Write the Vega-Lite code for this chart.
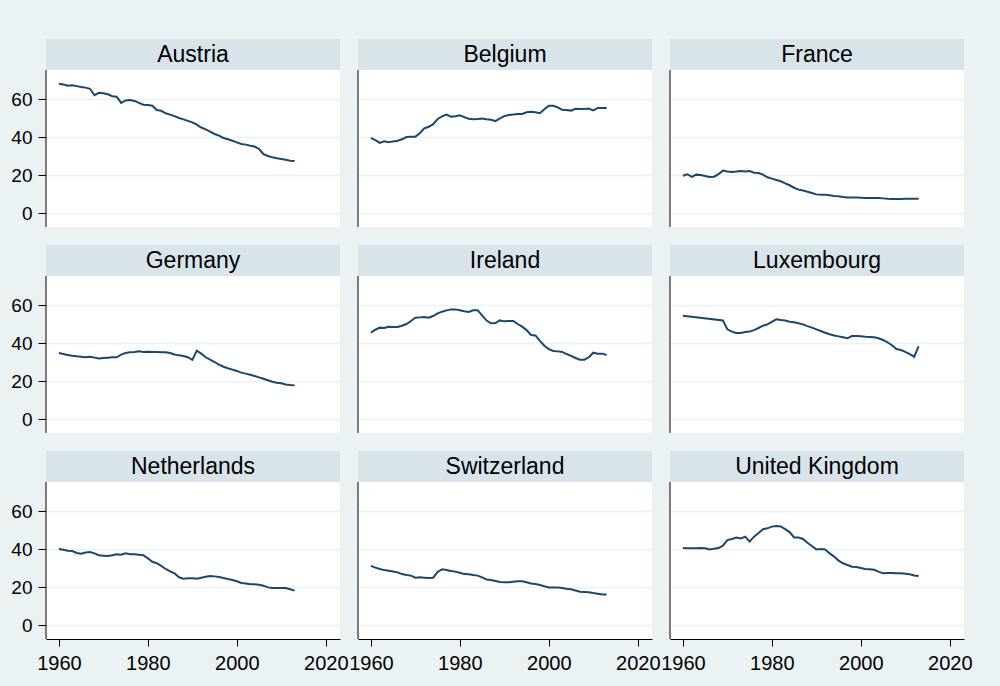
{
  "$schema": "https://vega.github.io/schema/vega-lite/v6.json",
  "background": "#EAF2F3",
  "padding": {"left": 10, "top": 39, "right": 27, "bottom": 14},
  "bounds": "flush",
  "config": {
    "view": {"fill": "white", "stroke": null},
    "font": "Liberation Sans",
    "header": {"labels": false, "title": null, "labelPadding": 0, "titlePadding": 0, "labelFontSize": 0, "labelExpr": "''"},
    "axis": {"labelFont": "Liberation Sans", "labelColor": "black", "domainColor": "black", "tickColor": "black"}
  },
  "datasets": {
    "d": [
      {"country":"Austria","year":1960,"value":68},{"country":"Austria","year":1961,"value":67.7},{"country":"Austria","year":1962,"value":67},{"country":"Austria","year":1963,"value":67.2},{"country":"Austria","year":1964,"value":66.8},{"country":"Austria","year":1965,"value":66.3},{"country":"Austria","year":1966,"value":66},{"country":"Austria","year":1967,"value":65.4},{"country":"Austria","year":1968,"value":62},{"country":"Austria","year":1969,"value":63.3},{"country":"Austria","year":1970,"value":63},{"country":"Austria","year":1971,"value":62.5},{"country":"Austria","year":1972,"value":61.5},{"country":"Austria","year":1973,"value":61.2},{"country":"Austria","year":1974,"value":58},{"country":"Austria","year":1975,"value":59.3},{"country":"Austria","year":1976,"value":59.5},{"country":"Austria","year":1977,"value":59},{"country":"Austria","year":1978,"value":58},{"country":"Austria","year":1979,"value":57},{"country":"Austria","year":1980,"value":56.8},{"country":"Austria","year":1981,"value":56.5},{"country":"Austria","year":1982,"value":54.2},{"country":"Austria","year":1983,"value":53.8},{"country":"Austria","year":1984,"value":52.5},{"country":"Austria","year":1985,"value":51.8},{"country":"Austria","year":1986,"value":51},{"country":"Austria","year":1987,"value":50},{"country":"Austria","year":1988,"value":49.3},{"country":"Austria","year":1989,"value":48.5},{"country":"Austria","year":1990,"value":47.7},{"country":"Austria","year":1991,"value":46.5},{"country":"Austria","year":1992,"value":45},{"country":"Austria","year":1993,"value":44},{"country":"Austria","year":1994,"value":42.8},{"country":"Austria","year":1995,"value":41.6},{"country":"Austria","year":1996,"value":40.7},{"country":"Austria","year":1997,"value":39.5},{"country":"Austria","year":1998,"value":38.8},{"country":"Austria","year":1999,"value":38},{"country":"Austria","year":2000,"value":37.2},{"country":"Austria","year":2001,"value":36.3},{"country":"Austria","year":2002,"value":36},{"country":"Austria","year":2003,"value":35.4},{"country":"Austria","year":2004,"value":35},{"country":"Austria","year":2005,"value":33.7},{"country":"Austria","year":2006,"value":31},{"country":"Austria","year":2007,"value":30},{"country":"Austria","year":2008,"value":29.3},{"country":"Austria","year":2009,"value":28.8},{"country":"Austria","year":2010,"value":28.4},{"country":"Austria","year":2011,"value":28},{"country":"Austria","year":2012,"value":27.5},{"country":"Austria","year":2013,"value":27.4},
      {"country":"Belgium","year":1960,"value":39.6},{"country":"Belgium","year":1961,"value":38.4},{"country":"Belgium","year":1962,"value":36.9},{"country":"Belgium","year":1963,"value":37.7},{"country":"Belgium","year":1964,"value":37.2},{"country":"Belgium","year":1965,"value":37.7},{"country":"Belgium","year":1966,"value":38},{"country":"Belgium","year":1967,"value":38.8},{"country":"Belgium","year":1968,"value":40},{"country":"Belgium","year":1969,"value":40.2},{"country":"Belgium","year":1970,"value":40.2},{"country":"Belgium","year":1971,"value":42},{"country":"Belgium","year":1972,"value":44.6},{"country":"Belgium","year":1973,"value":45.4},{"country":"Belgium","year":1974,"value":46.8},{"country":"Belgium","year":1975,"value":49.5},{"country":"Belgium","year":1976,"value":50.9},{"country":"Belgium","year":1977,"value":51.8},{"country":"Belgium","year":1978,"value":50.7},{"country":"Belgium","year":1979,"value":50.9},{"country":"Belgium","year":1980,"value":51.4},{"country":"Belgium","year":1981,"value":50.5},{"country":"Belgium","year":1982,"value":49.6},{"country":"Belgium","year":1983,"value":49.3},{"country":"Belgium","year":1984,"value":49.5},{"country":"Belgium","year":1985,"value":49.8},{"country":"Belgium","year":1986,"value":49.3},{"country":"Belgium","year":1987,"value":49.1},{"country":"Belgium","year":1988,"value":48.4},{"country":"Belgium","year":1989,"value":49.8},{"country":"Belgium","year":1990,"value":51},{"country":"Belgium","year":1991,"value":51.6},{"country":"Belgium","year":1992,"value":51.8},{"country":"Belgium","year":1993,"value":52.1},{"country":"Belgium","year":1994,"value":52.1},{"country":"Belgium","year":1995,"value":53},{"country":"Belgium","year":1996,"value":53.3},{"country":"Belgium","year":1997,"value":53},{"country":"Belgium","year":1998,"value":52.5},{"country":"Belgium","year":1999,"value":54.6},{"country":"Belgium","year":2000,"value":56.4},{"country":"Belgium","year":2001,"value":56.4},{"country":"Belgium","year":2002,"value":55.6},{"country":"Belgium","year":2003,"value":54.4},{"country":"Belgium","year":2004,"value":54.2},{"country":"Belgium","year":2005,"value":53.9},{"country":"Belgium","year":2006,"value":54.9},{"country":"Belgium","year":2007,"value":54.7},{"country":"Belgium","year":2008,"value":54.7},{"country":"Belgium","year":2009,"value":55},{"country":"Belgium","year":2010,"value":54},{"country":"Belgium","year":2011,"value":55.3},{"country":"Belgium","year":2012,"value":55.3},{"country":"Belgium","year":2013,"value":55.3},
      {"country":"France","year":1960,"value":19.6},{"country":"France","year":1961,"value":20.4},{"country":"France","year":1962,"value":19},{"country":"France","year":1963,"value":20.2},{"country":"France","year":1964,"value":20},{"country":"France","year":1965,"value":19.5},{"country":"France","year":1966,"value":19},{"country":"France","year":1967,"value":19.1},{"country":"France","year":1968,"value":20.5},{"country":"France","year":1969,"value":22.3},{"country":"France","year":1970,"value":21.8},{"country":"France","year":1971,"value":21.6},{"country":"France","year":1972,"value":21.8},{"country":"France","year":1973,"value":22.1},{"country":"France","year":1974,"value":21.9},{"country":"France","year":1975,"value":22.1},{"country":"France","year":1976,"value":21.2},{"country":"France","year":1977,"value":21},{"country":"France","year":1978,"value":20.2},{"country":"France","year":1979,"value":18.8},{"country":"France","year":1980,"value":18.1},{"country":"France","year":1981,"value":17.4},{"country":"France","year":1982,"value":16.7},{"country":"France","year":1983,"value":15.6},{"country":"France","year":1984,"value":14.6},{"country":"France","year":1985,"value":13.3},{"country":"France","year":1986,"value":12.3},{"country":"France","year":1987,"value":11.8},{"country":"France","year":1988,"value":11.2},{"country":"France","year":1989,"value":10.5},{"country":"France","year":1990,"value":9.8},{"country":"France","year":1991,"value":9.6},{"country":"France","year":1992,"value":9.6},{"country":"France","year":1993,"value":9.3},{"country":"France","year":1994,"value":8.9},{"country":"France","year":1995,"value":8.8},{"country":"France","year":1996,"value":8.4},{"country":"France","year":1997,"value":8.2},{"country":"France","year":1998,"value":8.2},{"country":"France","year":1999,"value":8.1},{"country":"France","year":2000,"value":8},{"country":"France","year":2001,"value":7.9},{"country":"France","year":2002,"value":7.9},{"country":"France","year":2003,"value":7.9},{"country":"France","year":2004,"value":7.9},{"country":"France","year":2005,"value":7.7},{"country":"France","year":2006,"value":7.5},{"country":"France","year":2007,"value":7.4},{"country":"France","year":2008,"value":7.4},{"country":"France","year":2009,"value":7.4},{"country":"France","year":2010,"value":7.5},{"country":"France","year":2011,"value":7.5},{"country":"France","year":2012,"value":7.5},{"country":"France","year":2013,"value":7.5},
      {"country":"Germany","year":1960,"value":34.7},{"country":"Germany","year":1961,"value":34.2},{"country":"Germany","year":1962,"value":33.7},{"country":"Germany","year":1963,"value":33.3},{"country":"Germany","year":1964,"value":33},{"country":"Germany","year":1965,"value":32.8},{"country":"Germany","year":1966,"value":32.5},{"country":"Germany","year":1967,"value":32.8},{"country":"Germany","year":1968,"value":32.3},{"country":"Germany","year":1969,"value":31.8},{"country":"Germany","year":1970,"value":32.1},{"country":"Germany","year":1971,"value":32.3},{"country":"Germany","year":1972,"value":32.5},{"country":"Germany","year":1973,"value":32.5},{"country":"Germany","year":1974,"value":33.9},{"country":"Germany","year":1975,"value":34.7},{"country":"Germany","year":1976,"value":35.1},{"country":"Germany","year":1977,"value":35.3},{"country":"Germany","year":1978,"value":35.6},{"country":"Germany","year":1979,"value":35.3},{"country":"Germany","year":1980,"value":35.4},{"country":"Germany","year":1981,"value":35.3},{"country":"Germany","year":1982,"value":35.3},{"country":"Germany","year":1983,"value":35.1},{"country":"Germany","year":1984,"value":35.1},{"country":"Germany","year":1985,"value":34.7},{"country":"Germany","year":1986,"value":34},{"country":"Germany","year":1987,"value":33.5},{"country":"Germany","year":1988,"value":33.2},{"country":"Germany","year":1989,"value":32.5},{"country":"Germany","year":1990,"value":31.1},{"country":"Germany","year":1991,"value":36},{"country":"Germany","year":1992,"value":34.4},{"country":"Germany","year":1993,"value":32.5},{"country":"Germany","year":1994,"value":31.2},{"country":"Germany","year":1995,"value":30},{"country":"Germany","year":1996,"value":28.6},{"country":"Germany","year":1997,"value":27.5},{"country":"Germany","year":1998,"value":26.7},{"country":"Germany","year":1999,"value":26},{"country":"Germany","year":2000,"value":25.3},{"country":"Germany","year":2001,"value":24.4},{"country":"Germany","year":2002,"value":23.9},{"country":"Germany","year":2003,"value":23.3},{"country":"Germany","year":2004,"value":22.6},{"country":"Germany","year":2005,"value":21.9},{"country":"Germany","year":2006,"value":21.2},{"country":"Germany","year":2007,"value":20.4},{"country":"Germany","year":2008,"value":19.6},{"country":"Germany","year":2009,"value":19.1},{"country":"Germany","year":2010,"value":18.8},{"country":"Germany","year":2011,"value":18.2},{"country":"Germany","year":2012,"value":17.9},{"country":"Germany","year":2013,"value":17.7},
      {"country":"Ireland","year":1960,"value":45.4},{"country":"Ireland","year":1961,"value":47},{"country":"Ireland","year":1962,"value":48.1},{"country":"Ireland","year":1963,"value":47.9},{"country":"Ireland","year":1964,"value":48.6},{"country":"Ireland","year":1965,"value":48.4},{"country":"Ireland","year":1966,"value":48.4},{"country":"Ireland","year":1967,"value":49.1},{"country":"Ireland","year":1968,"value":50},{"country":"Ireland","year":1969,"value":51.6},{"country":"Ireland","year":1970,"value":53.3},{"country":"Ireland","year":1971,"value":53.5},{"country":"Ireland","year":1972,"value":53.7},{"country":"Ireland","year":1973,"value":53.3},{"country":"Ireland","year":1974,"value":54.2},{"country":"Ireland","year":1975,"value":55.6},{"country":"Ireland","year":1976,"value":56.5},{"country":"Ireland","year":1977,"value":57.2},{"country":"Ireland","year":1978,"value":57.7},{"country":"Ireland","year":1979,"value":57.7},{"country":"Ireland","year":1980,"value":57.2},{"country":"Ireland","year":1981,"value":56.7},{"country":"Ireland","year":1982,"value":56.3},{"country":"Ireland","year":1983,"value":57.2},{"country":"Ireland","year":1984,"value":57.2},{"country":"Ireland","year":1985,"value":54.6},{"country":"Ireland","year":1986,"value":51.8},{"country":"Ireland","year":1987,"value":50.4},{"country":"Ireland","year":1988,"value":50.5},{"country":"Ireland","year":1989,"value":51.9},{"country":"Ireland","year":1990,"value":51.4},{"country":"Ireland","year":1991,"value":51.6},{"country":"Ireland","year":1992,"value":51.6},{"country":"Ireland","year":1993,"value":50},{"country":"Ireland","year":1994,"value":48.6},{"country":"Ireland","year":1995,"value":46.8},{"country":"Ireland","year":1996,"value":44.2},{"country":"Ireland","year":1997,"value":44},{"country":"Ireland","year":1998,"value":41.1},{"country":"Ireland","year":1999,"value":38.6},{"country":"Ireland","year":2000,"value":36.8},{"country":"Ireland","year":2001,"value":35.8},{"country":"Ireland","year":2002,"value":35.6},{"country":"Ireland","year":2003,"value":35.3},{"country":"Ireland","year":2004,"value":34.2},{"country":"Ireland","year":2005,"value":33.2},{"country":"Ireland","year":2006,"value":32.1},{"country":"Ireland","year":2007,"value":31.2},{"country":"Ireland","year":2008,"value":31.2},{"country":"Ireland","year":2009,"value":32.5},{"country":"Ireland","year":2010,"value":34.9},{"country":"Ireland","year":2011,"value":34.4},{"country":"Ireland","year":2012,"value":34.4},{"country":"Ireland","year":2013,"value":33.7},
      {"country":"Luxembourg","year":1960,"value":54.4},{"country":"Luxembourg","year":1969,"value":51.9},{"country":"Luxembourg","year":1970,"value":47.2},{"country":"Luxembourg","year":1971,"value":46},{"country":"Luxembourg","year":1972,"value":45.3},{"country":"Luxembourg","year":1973,"value":45.3},{"country":"Luxembourg","year":1974,"value":45.8},{"country":"Luxembourg","year":1975,"value":46},{"country":"Luxembourg","year":1976,"value":46.8},{"country":"Luxembourg","year":1977,"value":47.9},{"country":"Luxembourg","year":1978,"value":49.1},{"country":"Luxembourg","year":1979,"value":49.8},{"country":"Luxembourg","year":1980,"value":51.1},{"country":"Luxembourg","year":1981,"value":52.5},{"country":"Luxembourg","year":1982,"value":52.1},{"country":"Luxembourg","year":1983,"value":51.8},{"country":"Luxembourg","year":1984,"value":51.2},{"country":"Luxembourg","year":1985,"value":50.9},{"country":"Luxembourg","year":1986,"value":50.4},{"country":"Luxembourg","year":1987,"value":49.8},{"country":"Luxembourg","year":1988,"value":48.9},{"country":"Luxembourg","year":1989,"value":48.1},{"country":"Luxembourg","year":1990,"value":47.2},{"country":"Luxembourg","year":1991,"value":46.3},{"country":"Luxembourg","year":1992,"value":45.4},{"country":"Luxembourg","year":1993,"value":44.6},{"country":"Luxembourg","year":1994,"value":44},{"country":"Luxembourg","year":1995,"value":43.5},{"country":"Luxembourg","year":1996,"value":43},{"country":"Luxembourg","year":1997,"value":42.5},{"country":"Luxembourg","year":1998,"value":43.7},{"country":"Luxembourg","year":1999,"value":43.7},{"country":"Luxembourg","year":2000,"value":43.5},{"country":"Luxembourg","year":2001,"value":43.3},{"country":"Luxembourg","year":2002,"value":43.2},{"country":"Luxembourg","year":2003,"value":43},{"country":"Luxembourg","year":2004,"value":42.5},{"country":"Luxembourg","year":2005,"value":41.6},{"country":"Luxembourg","year":2006,"value":40.4},{"country":"Luxembourg","year":2007,"value":38.8},{"country":"Luxembourg","year":2008,"value":36.8},{"country":"Luxembourg","year":2009,"value":36.3},{"country":"Luxembourg","year":2010,"value":35.3},{"country":"Luxembourg","year":2011,"value":34.2},{"country":"Luxembourg","year":2012,"value":32.8},{"country":"Luxembourg","year":2013,"value":38.2},
      {"country":"Netherlands","year":1960,"value":40},{"country":"Netherlands","year":1961,"value":39.6},{"country":"Netherlands","year":1962,"value":39.1},{"country":"Netherlands","year":1963,"value":38.9},{"country":"Netherlands","year":1964,"value":37.9},{"country":"Netherlands","year":1965,"value":37.5},{"country":"Netherlands","year":1966,"value":38.2},{"country":"Netherlands","year":1967,"value":38.4},{"country":"Netherlands","year":1968,"value":37.7},{"country":"Netherlands","year":1969,"value":36.7},{"country":"Netherlands","year":1970,"value":36.5},{"country":"Netherlands","year":1971,"value":36.3},{"country":"Netherlands","year":1972,"value":36.7},{"country":"Netherlands","year":1973,"value":37.2},{"country":"Netherlands","year":1974,"value":37},{"country":"Netherlands","year":1975,"value":37.7},{"country":"Netherlands","year":1976,"value":37.2},{"country":"Netherlands","year":1977,"value":37.2},{"country":"Netherlands","year":1978,"value":37},{"country":"Netherlands","year":1979,"value":36.7},{"country":"Netherlands","year":1980,"value":35.1},{"country":"Netherlands","year":1981,"value":33.3},{"country":"Netherlands","year":1982,"value":32.5},{"country":"Netherlands","year":1983,"value":31.1},{"country":"Netherlands","year":1984,"value":29.5},{"country":"Netherlands","year":1985,"value":28.2},{"country":"Netherlands","year":1986,"value":27.2},{"country":"Netherlands","year":1987,"value":25.1},{"country":"Netherlands","year":1988,"value":24.4},{"country":"Netherlands","year":1989,"value":24.6},{"country":"Netherlands","year":1990,"value":24.6},{"country":"Netherlands","year":1991,"value":24.4},{"country":"Netherlands","year":1992,"value":24.9},{"country":"Netherlands","year":1993,"value":25.4},{"country":"Netherlands","year":1994,"value":25.8},{"country":"Netherlands","year":1995,"value":25.6},{"country":"Netherlands","year":1996,"value":25.3},{"country":"Netherlands","year":1997,"value":24.7},{"country":"Netherlands","year":1998,"value":24.2},{"country":"Netherlands","year":1999,"value":23.7},{"country":"Netherlands","year":2000,"value":23},{"country":"Netherlands","year":2001,"value":22.1},{"country":"Netherlands","year":2002,"value":21.8},{"country":"Netherlands","year":2003,"value":21.4},{"country":"Netherlands","year":2004,"value":21.4},{"country":"Netherlands","year":2005,"value":21.2},{"country":"Netherlands","year":2006,"value":20.7},{"country":"Netherlands","year":2007,"value":19.8},{"country":"Netherlands","year":2008,"value":19.5},{"country":"Netherlands","year":2009,"value":19.5},{"country":"Netherlands","year":2010,"value":19.5},{"country":"Netherlands","year":2011,"value":19.5},{"country":"Netherlands","year":2012,"value":18.8},{"country":"Netherlands","year":2013,"value":18.1},
      {"country":"Switzerland","year":1960,"value":31.1},{"country":"Switzerland","year":1961,"value":30.2},{"country":"Switzerland","year":1962,"value":29.5},{"country":"Switzerland","year":1963,"value":28.9},{"country":"Switzerland","year":1964,"value":28.6},{"country":"Switzerland","year":1965,"value":28.2},{"country":"Switzerland","year":1966,"value":27.7},{"country":"Switzerland","year":1967,"value":26.8},{"country":"Switzerland","year":1968,"value":26.3},{"country":"Switzerland","year":1969,"value":26},{"country":"Switzerland","year":1970,"value":24.9},{"country":"Switzerland","year":1971,"value":25.1},{"country":"Switzerland","year":1972,"value":24.9},{"country":"Switzerland","year":1973,"value":24.7},{"country":"Switzerland","year":1974,"value":24.9},{"country":"Switzerland","year":1975,"value":27.9},{"country":"Switzerland","year":1976,"value":29.3},{"country":"Switzerland","year":1977,"value":28.9},{"country":"Switzerland","year":1978,"value":28.4},{"country":"Switzerland","year":1979,"value":28.1},{"country":"Switzerland","year":1980,"value":27.5},{"country":"Switzerland","year":1981,"value":26.8},{"country":"Switzerland","year":1982,"value":26.7},{"country":"Switzerland","year":1983,"value":26.3},{"country":"Switzerland","year":1984,"value":26},{"country":"Switzerland","year":1985,"value":25.1},{"country":"Switzerland","year":1986,"value":24},{"country":"Switzerland","year":1987,"value":23.7},{"country":"Switzerland","year":1988,"value":23.2},{"country":"Switzerland","year":1989,"value":22.6},{"country":"Switzerland","year":1990,"value":22.5},{"country":"Switzerland","year":1991,"value":22.5},{"country":"Switzerland","year":1992,"value":22.8},{"country":"Switzerland","year":1993,"value":23},{"country":"Switzerland","year":1994,"value":23},{"country":"Switzerland","year":1995,"value":22.5},{"country":"Switzerland","year":1996,"value":21.9},{"country":"Switzerland","year":1997,"value":21.6},{"country":"Switzerland","year":1998,"value":21.1},{"country":"Switzerland","year":1999,"value":20.4},{"country":"Switzerland","year":2000,"value":19.8},{"country":"Switzerland","year":2001,"value":19.8},{"country":"Switzerland","year":2002,"value":19.8},{"country":"Switzerland","year":2003,"value":19.5},{"country":"Switzerland","year":2004,"value":19.1},{"country":"Switzerland","year":2005,"value":18.8},{"country":"Switzerland","year":2006,"value":18.2},{"country":"Switzerland","year":2007,"value":17.5},{"country":"Switzerland","year":2008,"value":17.4},{"country":"Switzerland","year":2009,"value":17.2},{"country":"Switzerland","year":2010,"value":16.8},{"country":"Switzerland","year":2011,"value":16.5},{"country":"Switzerland","year":2012,"value":16.1},{"country":"Switzerland","year":2013,"value":16.1},
      {"country":"United Kingdom","year":1960,"value":40.5},{"country":"United Kingdom","year":1961,"value":40.4},{"country":"United Kingdom","year":1962,"value":40.4},{"country":"United Kingdom","year":1963,"value":40.4},{"country":"United Kingdom","year":1964,"value":40.5},{"country":"United Kingdom","year":1965,"value":40.4},{"country":"United Kingdom","year":1966,"value":39.8},{"country":"United Kingdom","year":1967,"value":40.2},{"country":"United Kingdom","year":1968,"value":40.5},{"country":"United Kingdom","year":1969,"value":41.8},{"country":"United Kingdom","year":1970,"value":44.7},{"country":"United Kingdom","year":1971,"value":45.3},{"country":"United Kingdom","year":1972,"value":46.1},{"country":"United Kingdom","year":1973,"value":45.6},{"country":"United Kingdom","year":1974,"value":46.5},{"country":"United Kingdom","year":1975,"value":43.9},{"country":"United Kingdom","year":1976,"value":46.5},{"country":"United Kingdom","year":1977,"value":48.4},{"country":"United Kingdom","year":1978,"value":50.4},{"country":"United Kingdom","year":1979,"value":50.9},{"country":"United Kingdom","year":1980,"value":51.8},{"country":"United Kingdom","year":1981,"value":52.1},{"country":"United Kingdom","year":1982,"value":51.9},{"country":"United Kingdom","year":1983,"value":50.5},{"country":"United Kingdom","year":1984,"value":48.9},{"country":"United Kingdom","year":1985,"value":46.1},{"country":"United Kingdom","year":1986,"value":46.1},{"country":"United Kingdom","year":1987,"value":45.3},{"country":"United Kingdom","year":1988,"value":43.3},{"country":"United Kingdom","year":1989,"value":41.6},{"country":"United Kingdom","year":1990,"value":39.8},{"country":"United Kingdom","year":1991,"value":40},{"country":"United Kingdom","year":1992,"value":39.8},{"country":"United Kingdom","year":1993,"value":37.7},{"country":"United Kingdom","year":1994,"value":36},{"country":"United Kingdom","year":1995,"value":33.9},{"country":"United Kingdom","year":1996,"value":32.5},{"country":"United Kingdom","year":1997,"value":31.6},{"country":"United Kingdom","year":1998,"value":30.7},{"country":"United Kingdom","year":1999,"value":30.5},{"country":"United Kingdom","year":2000,"value":30},{"country":"United Kingdom","year":2001,"value":29.5},{"country":"United Kingdom","year":2002,"value":29.3},{"country":"United Kingdom","year":2003,"value":29.1},{"country":"United Kingdom","year":2004,"value":28.1},{"country":"United Kingdom","year":2005,"value":27.2},{"country":"United Kingdom","year":2006,"value":27.4},{"country":"United Kingdom","year":2007,"value":27.4},{"country":"United Kingdom","year":2008,"value":27.2},{"country":"United Kingdom","year":2009,"value":27.2},{"country":"United Kingdom","year":2010,"value":27},{"country":"United Kingdom","year":2011,"value":26.7},{"country":"United Kingdom","year":2012,"value":26.1},{"country":"United Kingdom","year":2013,"value":25.8}
    ]
  },
  "data": {"name": "d"},
  "facet": {"field": "country", "type": "nominal", "header": {"title": null, "labels": false, "labelExpr": "''", "labelFontSize": 0, "labelPadding": 0}},
  "columns": 3,
  "spacing": 18,
  "spec": {
    "width": 294,
    "height": 188,
    "layer": [
      {
        "mark": {"type": "line", "color": "#1A476F", "strokeWidth": 2},
        "encoding": {
          "x": {"field": "year", "type": "quantitative", "title": null,
                "scale": {"domain": [1957.1, 2023.2], "nice": false, "zero": false},
                "axis": {"values": [1960, 1980, 2000, 2020], "format": "d", "grid": false, "tickSize": 7, "labelFontSize": 20, "labelPadding": 7, "labelFlush": false, "labelOverlap": false, "labelBound": false, "minExtent": 34, "maxExtent": 34, "domainWidth": 1, "tickWidth": 1}},
          "y": {"field": "value", "type": "quantitative", "title": null,
                "scale": {"domain": [-7.37, 91.6], "nice": false, "zero": false},
                "axis": {"values": [0, 20, 40, 60], "domain": false, "grid": true, "gridColor": "#EAF2F3", "gridWidth": 1.5, "tickSize": 8, "labelFontSize": 19, "labelAlign": "right", "labelBaseline": "middle", "labelPadding": 6, "minExtent": 36, "maxExtent": 36, "tickWidth": 1}}
        }
      },
      {
        "transform": [{"aggregate": [{"op": "count", "as": "n"}], "groupby": ["country"]}],
        "mark": {"type": "rect", "color": "#D8E4EA"},
        "encoding": {
          "y": {"datum": 75.3, "type": "quantitative", "title": null},
          "y2": {"datum": 91.6}
        }
      },
      {
        "transform": [{"aggregate": [{"op": "count", "as": "n"}], "groupby": ["country"]}],
        "mark": {"type": "rule", "color": "black", "strokeWidth": 1},
        "encoding": {
          "x": {"datum": 1957.1, "type": "quantitative", "title": null},
          "y": {"datum": -7.37, "type": "quantitative", "title": null},
          "y2": {"datum": 75.3}
        }
      },
      {
        "transform": [{"aggregate": [{"op": "count", "as": "n"}], "groupby": ["country"]}],
        "mark": {"type": "text", "fontSize": 23, "color": "black", "font": "Liberation Sans", "baseline": "middle", "align": "center"},
        "encoding": {
          "x": {"datum": 1990.15, "type": "quantitative", "title": null},
          "y": {"datum": 83.3, "type": "quantitative", "title": null},
          "text": {"field": "country", "type": "nominal"}
        }
      }
    ]
  }
}
